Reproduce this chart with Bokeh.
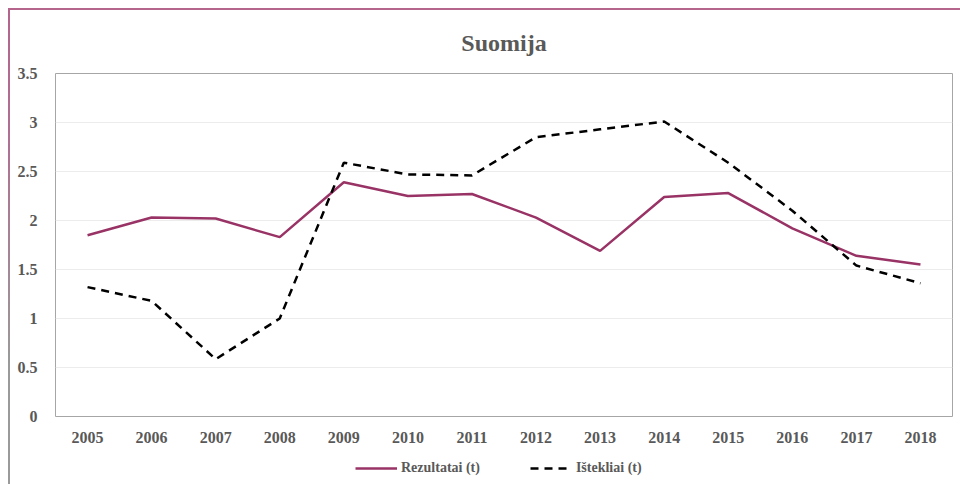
from bokeh.plotting import figure
from bokeh.embed import file_html
from bokeh.resources import INLINE
from bokeh.layouts import column
from bokeh.models import Legend, LegendItem, FixedTicker, ColumnDataSource

years = ["2005", "2006", "2007", "2008", "2009", "2010", "2011",
         "2012", "2013", "2014", "2015", "2016", "2017", "2018"]
rezultatai = [1.85, 2.03, 2.02, 1.83, 2.39, 2.25, 2.27,
              2.03, 1.69, 2.24, 2.28, 1.92, 1.64, 1.55]
istekliai = [1.32, 1.18, 0.585, 1.0, 2.59, 2.47, 2.46,
             2.85, 2.93, 3.01, 2.59, 2.1, 1.54, 1.36]
y_ticks = [0, 0.5, 1, 1.5, 2, 2.5, 3, 3.5]

src = ColumnDataSource(dict(year=years, rez=rezultatai, ist=istekliai))

FONT = "Liberation Serif"
GRAY = "#595959"
REZ_COLOR = "#993366"

p = figure(x_range=years, y_range=(0, 3.5), frame_width=895, frame_height=341,
           output_backend="svg", toolbar_location=None,
           min_border_left=45, min_border_top=63, min_border_right=10,
           min_border_bottom=40)
p.styles = {"border-top": "2px solid #b5648c",
            "border-left": "2px solid #b5648c",
            "border-image": "linear-gradient(to bottom, #b5648c, #b07090 30%, #9a9a9a 80%) 1"}

p.title.text = "Suomija"
p.title.align = "center"
p.title.text_font = FONT
p.title.text_font_size = "24px"
p.title.text_font_style = "bold"
p.title.text_color = GRAY
p.title.standoff = 35

p.outline_line_color = "#a6a6a6"
p.outline_line_width = 1
p.xgrid.grid_line_color = None
p.ygrid.grid_line_color = "#ececec"
p.yaxis.ticker = FixedTicker(ticks=y_ticks)
for ax in (p.xaxis[0], p.yaxis[0]):
    ax.axis_line_color = None
    ax.major_tick_line_color = None
    ax.minor_tick_line_color = None
    ax.major_label_text_font = FONT
    ax.major_label_text_font_size = "16px"
    ax.major_label_text_font_style = "bold"
    ax.major_label_text_color = GRAY
p.xaxis.major_label_standoff = 9
p.yaxis.major_label_standoff = 12

p.line("year", "rez", source=src, line_color=REZ_COLOR, line_width=2.5)
p.line("year", "ist", source=src, line_color="black", line_width=2.5,
       line_dash="8 6")

# legend strip below the chart (same series, drawn outside its visible range)
p2 = figure(x_range=years, y_range=(10, 11), width=950, height=30,
            output_backend="svg", toolbar_location=None,
            min_border_left=0, min_border_right=0, min_border_top=0,
            min_border_bottom=0)
p2.styles = {"border-left": "2px solid #9a9a9a"}
p2.axis.visible = False
p2.grid.grid_line_color = None
p2.outline_line_color = None
r1 = p2.line("year", "rez", source=src, line_color=REZ_COLOR, line_width=2.5)
r2 = p2.line("year", "ist", source=src, line_color="black", line_width=2.5,
             line_dash="8 6")

legend = Legend(items=[LegendItem(label="Rezultatai (t)", renderers=[r1]),
                       LegendItem(label="Ištekliai (t)", renderers=[r2])],
                orientation="horizontal", location=(300, 8))
legend.label_text_font = FONT
legend.label_text_font_size = "14px"
legend.label_text_font_style = "bold"
legend.label_text_color = GRAY
legend.border_line_color = None
legend.background_fill_alpha = 0
legend.glyph_width = 42
legend.glyph_height = 16
legend.label_height = 16
legend.spacing = 50
legend.label_standoff = 4
legend.padding = 2
legend.margin = 0
p2.add_layout(legend, "center")

layout = column(p, p2, spacing=0,
                styles={"margin-left": "8px", "margin-top": "8px"})

open("out.html", "w").write(file_html(layout, INLINE))
